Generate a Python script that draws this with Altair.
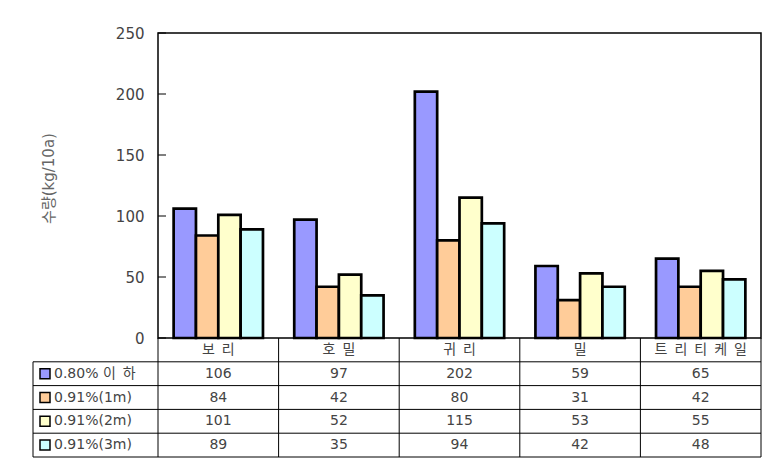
import altair as alt
import pandas as pd

# ---------------- data ----------------
categories = ["보리", "호밀", "귀리", "밀", "트리티케일"]
series = ["0.80% 이하", "0.91%(1m)", "0.91%(2m)", "0.91%(3m)"]
v_080 = [106, 97, 202, 59, 65]
v_1m = [84, 42, 80, 31, 42]
v_2m = [101, 52, 115, 53, 55]
v_3m = [89, 35, 94, 42, 48]
colors = ["#9999FF", "#FFCC99", "#FFFFCC", "#CCFFFF"]
y_ticks = [0, 50, 100, 150, 200, 250]
y_title = "수량(kg/10a)"

SP = "\u2002"


def spaced(s):
    # wide Hangul letter spacing as rendered in the reference
    out = ""
    for i, ch in enumerate(s):
        out += ch
        if i + 1 < len(s) and "\uac00" <= ch <= "\ud7a3" and "\uac00" <= s[i + 1] <= "\ud7a3":
            out += SP
    return out


FONT = "DejaVu Sans, Noto Sans CJK KR"
TXT = "#444444"

rows = []
for si, (s, vals) in enumerate(zip(series, [v_080, v_1m, v_2m, v_3m])):
    for ci, (c, v) in enumerate(zip(categories, vals)):
        rows.append({"category": c, "series": s, "value": v,
                     "col": ci + 0.5, "row": si + 1.5, "slabel": spaced(s)})
df = pd.DataFrame(rows)

W, H = 603, 305
TH = 119
COLW = W / len(categories)
LEG = 125 / COLW

# ---------------- bar chart ----------------
bars = alt.Chart(df).mark_bar(stroke="black", strokeWidth=2.7).encode(
    x=alt.X("category:N", sort=categories, axis=None,
            scale=alt.Scale(paddingInner=0, paddingOuter=0)),
    xOffset=alt.XOffset("series:N", sort=series,
                        scale=alt.Scale(paddingInner=0, paddingOuter=0.7)),
    y=alt.Y("value:Q", scale=alt.Scale(domain=[0, 250], nice=False),
            axis=alt.Axis(values=y_ticks, ticks=False, domain=False, grid=False,
                          labelPadding=14, labelFont=FONT, labelFontSize=15,
                          labelColor=TXT, title=y_title, titleFont=FONT,
                          titleFontSize=15, titleFontWeight="normal",
                          titleColor="#666666", titleX=-110, titleY=145,
                          titleAngle=270, titleBaseline="middle")),
    color=alt.Color("series:N", sort=series,
                    scale=alt.Scale(domain=series, range=colors), legend=None),
)

tick_df = pd.DataFrame({"value": y_ticks})
ticks = alt.Chart(tick_df).mark_rule(color="black", strokeWidth=1).encode(
    y=alt.Y("value:Q"), x=alt.value(0), x2=alt.value(8)
)

top = alt.layer(bars, ticks).properties(
    width=W, height=H,
    view=alt.ViewBackground(stroke="black", strokeWidth=1.5),
)

# ---------------- data table ----------------
xs = alt.Scale(domain=[0, len(categories)], nice=False, zero=False)
ys = alt.Scale(domain=[0, 5], nice=False, zero=False, reverse=True)

head_df = pd.DataFrame({"x": [i + 0.5 for i in range(len(categories))],
                        "y": [0.5] * len(categories),
                        "label": [spaced(c) for c in categories]})

grid = []
for r in [1, 2, 3, 4, 5]:
    grid.append({"x": -LEG, "x2": len(categories), "y": r, "y2": r})
for c in range(len(categories) + 1):
    grid.append({"x": c, "x2": c, "y": 0, "y2": 5})
grid.append({"x": -LEG, "x2": -LEG, "y": 1, "y2": 5})
grid_df = pd.DataFrame(grid)

leg_df = pd.DataFrame({"series": series, "slabel": [spaced(s) for s in series],
                       "y": [i + 1.5 for i in range(len(series))],
                       "xs": [-LEG + 12 / COLW] * len(series),
                       "xt": [-LEG + 21 / COLW] * len(series)})

rules = alt.Chart(grid_df).mark_rule(color="black", strokeWidth=1).encode(
    x=alt.X("x:Q", scale=xs, axis=None), x2="x2:Q",
    y=alt.Y("y:Q", scale=ys, axis=None), y2="y2:Q",
)

head = alt.Chart(head_df).mark_text(font=FONT, fontSize=14, color=TXT).encode(
    x=alt.X("x:Q", scale=xs, axis=None), y=alt.Y("y:Q", scale=ys, axis=None),
    text="label:N",
)

vals = alt.Chart(df).mark_text(font=FONT, fontSize=14, color=TXT).encode(
    x=alt.X("col:Q", scale=xs, axis=None), y=alt.Y("row:Q", scale=ys, axis=None),
    text="value:Q",
)

swatch = alt.Chart(leg_df).mark_square(size=100, stroke="black", strokeWidth=1.5,
                                       opacity=1).encode(
    x=alt.X("xs:Q", scale=xs, axis=None), y=alt.Y("y:Q", scale=ys, axis=None),
    fill=alt.Fill("series:N", sort=series,
                  scale=alt.Scale(domain=series, range=colors), legend=None),
)

legtxt = alt.Chart(leg_df).mark_text(font=FONT, fontSize=14, color=TXT,
                                     align="left").encode(
    x=alt.X("xt:Q", scale=xs, axis=None), y=alt.Y("y:Q", scale=ys, axis=None),
    text="slabel:N",
)

table = alt.layer(rules, head, vals, swatch, legtxt).properties(
    width=W, height=TH,
    view=alt.ViewBackground(stroke="transparent", strokeWidth=0),
)

chart = alt.vconcat(top, table, spacing=0, bounds="flush").properties(
    padding={"left": 32, "top": 25, "right": 5, "bottom": 5}
).resolve_scale(color="independent")

chart.save("out.html", embed_options={"renderer": "svg", "actions": False})
